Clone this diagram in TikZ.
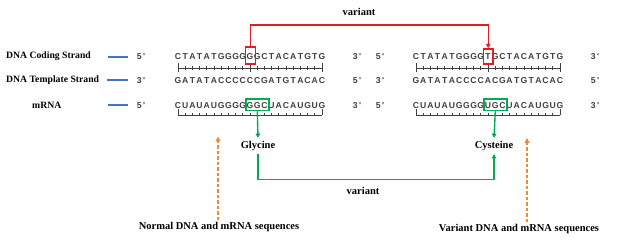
\documentclass[tikz,border=0pt]{standalone}
\usepackage{fontspec}
\setmainfont{Liberation Serif}
\newfontfamily\seqfont{Liberation Sans}
\usetikzlibrary{arrows.meta,calc}
\definecolor{cred}{RGB}{222,30,36}
\definecolor{cgreen}{RGB}{0,172,80}
\definecolor{cblue}{RGB}{68,114,196}
\definecolor{corange}{RGB}{232,140,60}
\definecolor{cgray}{RGB}{64,64,64}
\tikzset{
  lbl/.style={font=\fontsize{10.5}{12}\selectfont\bfseries, inner sep=1pt},
  rowlbl/.style={font=\fontsize{9.7}{11}\selectfont\bfseries, inner sep=1pt, anchor=west},
  seq/.style={font=\seqfont\bfseries\fontsize{8.6}{10}\selectfont, text=cgray, inner sep=0pt, anchor=base},
  prime/.style={font=\seqfont\bfseries\fontsize{8.6}{10}\selectfont, text=cgray, inner sep=0pt, anchor=base},
  bluebar/.style={draw=cblue, line width=2pt},
  ruler/.style={draw=cgray, line width=0.7pt},
  redbox/.style={draw=cred, line width=1.4pt, minimum width=9.5pt, inner sep=0pt},
  greenbox/.style={draw=cgreen, line width=1.4pt, minimum width=23pt, minimum height=11.5pt, inner sep=0pt},
  redline/.style={draw=cred, line width=1.4pt, -{Triangle[length=4.5pt,width=4.5pt]}},
  greenline/.style={draw=cgreen, line width=1.4pt, -{Triangle[length=4.5pt,width=4.5pt]}},
  orangeline/.style={draw=corange, line width=1.7pt, dash pattern=on 3.5pt off 2pt, -{Triangle[length=5pt,width=5pt]}},
}
\newcommand{\pr}[1]{#1\,\textquotesingle}
\begin{document}
\begin{tikzpicture}[x=1pt,y=-1pt]
\useasboundingbox (0,0) rectangle (622,243);

% row labels
\node[rowlbl] (lc) at (5,56) {DNA Coding Strand};
\node[rowlbl] (lt) at (5,80) {DNA Template Strand};
\node[rowlbl] (lm) at (31,105) {mRNA};

\coordinate (bc1) at (108,57); \coordinate (bc2) at (128,57);
\coordinate (bt1) at (107,80.5); \coordinate (bt2) at (128,80.5);
\coordinate (bm1) at (108,105); \coordinate (bm2) at (128,105);
\draw[bluebar] (bc1) -- (bc2);
\draw[bluebar] (bt1) -- (bt2);
\draw[bluebar] (bm1) -- (bm2);

% primes
\node[prime] (p1) at (141,59.8) {\pr{5}};
\node[prime] (p2) at (141,83.8) {\pr{3}};
\node[prime] (p3) at (141,108.8) {\pr{5}};
\foreach \yy/\a/\b [count=\k] in {59.8/3/5, 83.8/5/3, 108.8/3/5}{
  \node[prime] (pm\k a) at (357,\yy) {\pr{\a}};
  \node[prime] (pm\k b) at (380,\yy) {\pr{\b}};
}
\node[prime] (pe1) at (595,59.8) {\pr{3}};
\node[prime] (pe2) at (595,83.8) {\pr{5}};
\node[prime] (pe3) at (595,108.8) {\pr{3}};

% sequences
\foreach \c [count=\i from 0] in {C,T,A,T,A,T,G,G,G,G,G,G,C,T,A,C,A,T,G,T,G}
  \node[seq] (lc\i) at (178+7.2*\i,59.8) {\c};
\foreach \c [count=\i from 0] in {G,A,T,A,T,A,C,C,C,C,C,C,G,A,T,G,T,A,C,A,C}
  \node[seq] (lt\i) at (178+7.2*\i,83.8) {\c};
\foreach \c [count=\i from 0] in {C,U,A,U,A,U,G,G,G,G,G,G,C,U,A,C,A,U,G,U,G}
  \node[seq] (lm\i) at (178+7.2*\i,108.8) {\c};
\foreach \c [count=\i from 0] in {C,T,A,T,A,T,G,G,G,G,T,G,C,T,A,C,A,T,G,T,G}
  \node[seq] (rc\i) at (416+7.2*\i,59.8) {\c};
\foreach \c [count=\i from 0] in {G,A,T,A,T,A,C,C,C,C,A,C,G,A,T,G,T,A,C,A,C}
  \node[seq] (rt\i) at (416+7.2*\i,83.8) {\c};
\foreach \c [count=\i from 0] in {C,U,A,U,A,U,G,G,G,G,U,G,C,U,A,C,A,U,G,U,G}
  \node[seq] (rm\i) at (416+7.2*\i,108.8) {\c};

% rulers
\foreach \xs in {178,416}{
  \draw[ruler] (\xs,68) -- (\xs+144,68);
  \foreach \i in {0,...,20}{
    \pgfmathsetmacro{\hh}{(\i==0 || \i==10 || \i==20) ? 4.5 : 2}
    \draw[ruler] (\xs+7.2*\i,68-\hh) -- (\xs+7.2*\i,68+\hh);
  }
  \draw[ruler] (\xs,115.5) -- (\xs+144,115.5);
  \foreach \i in {0,...,20}{
    \pgfmathsetmacro{\hh}{(\i==0 || \i==20) ? 6 : 2.5}
    \draw[ruler] (\xs+7.2*\i,115.5) -- (\xs+7.2*\i,115.5-\hh);
  }
}

% boxes
\node[redbox, minimum height=17pt] (rb1) at (250.5,55.5) {};
\node[redbox, minimum height=15pt] (rb2) at (488.2,56.5) {};
\node[greenbox] (gb1) at (257.3,104.8) {};
\node[greenbox] (gb2) at (495.3,104.8) {};

% red variant connector
\coordinate (rtop) at (0,25);
\node[lbl] (v1) at (359,12) {variant};
\draw[redline] (rb1.north) -- (rb1.north |- rtop) -| (rb2.north);

% amino acids
\node[lbl, inner sep=3pt] (gly) at (258,146) {Glycine};
\node[lbl, inner sep=3pt] (cys) at (494,146) {Cysteine};
\coordinate (gbot) at (0,179.5);
\draw[greenline] (gb1.south) -- (gly.north);
\draw[greenline] (gb2.south) -- (cys.north);
\draw[greenline] (gly.south) -- (gly.south |- gbot) -| (cys.south);
\node[lbl] (v2) at (363,191) {variant};

% orange arrows
\node[lbl] (norm) at (219,227) {Normal DNA and mRNA sequences};
\node[lbl] (vari) at (519,229) {Variant DNA and mRNA sequences};
\coordinate (na) at (218,136.5);
\coordinate (va) at (527,138);
\draw[orangeline] (norm.north -| na) ++(0,-1) -- (na);
\draw[orangeline] (vari.north -| va) ++(0,-1) -- (va);
\end{tikzpicture}
\end{document}
